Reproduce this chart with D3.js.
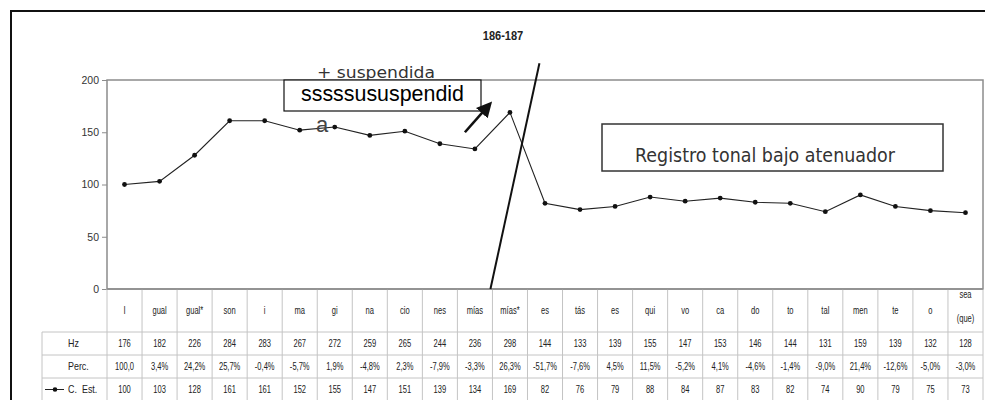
<!DOCTYPE html>
<html>
<head>
<meta charset="utf-8">
<script src="https://cdn.jsdelivr.net/npm/d3@7"></script>
<style>
  body { margin: 0; background: #fff; }
  svg { display: block; }
</style>
</head>
<body>
<div id="container"></div>
<script>
// syllables (x categories)
const categories = ["I", "gual", "gual*", "son", "i", "ma", "gi", "na", "cio", "nes", "mías", "mías*",
  "es", "tás", "es", "qui", "vo", "ca", "do", "to", "tal", "men", "te", "o", "sea (que)"];
// F0 in Hz
const hz = [176, 182, 226, 284, 283, 267, 272, 259, 265, 244, 236, 298,
  144, 133, 139, 155, 147, 153, 146, 144, 131, 159, 139, 132, 128];
// percentage change
const perc = ["100,0", "3,4%", "24,2%", "25,7%", "-0,4%", "-5,7%", "1,9%", "-4,8%", "2,3%", "-7,9%", "-3,3%", "26,3%",
  "-51,7%", "-7,6%", "4,5%", "11,5%", "-5,2%", "4,1%", "-4,6%", "-1,4%", "-9,0%", "21,4%", "-12,6%", "-5,0%", "-3,0%"];
// standardized curve
const cEst = [100, 103, 128, 161, 161, 152, 155, 147, 151, 139, 134, 169,
  82, 76, 79, 88, 84, 87, 83, 82, 74, 90, 79, 75, 73];
const yTicks = [0, 50, 100, 150, 200];

const width = 985, height = 400;
const plotLeft = 107, plotRight = 983, plotTop = 80, plotBottom = 289;
const rowLines = [332, 355, 378];

const x = d3.scaleBand().domain(d3.range(categories.length)).range([plotLeft, plotRight]);
const y = d3.scaleLinear().domain([0, 200]).range([plotBottom, plotTop]);
const cx = i => x(i) + x.bandwidth() / 2;

const svg = d3.select("#container").append("svg")
  .attr("width", width).attr("height", height)
  .attr("viewBox", [0, 0, width, height])
  .style("font-family", "'Liberation Sans', Arial, sans-serif");

// outer frame (only top & left visible)
svg.append("path")
  .attr("d", `M11,${height} L11,11 L${width},11`)
  .attr("fill", "none").attr("stroke", "#111").attr("stroke-width", 2);

// title
svg.append("text")
  .attr("transform", "translate(503,40) scale(0.85,1)")
  .attr("text-anchor", "middle")
  .attr("font-size", 13).attr("font-weight", "bold").attr("fill", "#222")
  .text("186-187");

// plot area frame
svg.append("rect")
  .attr("x", plotLeft).attr("y", plotTop)
  .attr("width", plotRight - plotLeft).attr("height", plotBottom - plotTop)
  .attr("fill", "none").attr("stroke", "#8c8c8c").attr("stroke-width", 1.5);

// y axis
const yAxis = svg.append("g")
  .attr("transform", `translate(${plotLeft},0)`)
  .call(d3.axisLeft(y).tickValues(yTicks).tickSize(5).tickPadding(3));
yAxis.select(".domain").remove();
yAxis.selectAll("line").attr("stroke", "#8c8c8c");
yAxis.selectAll("text")
  .attr("font-size", 10.5).attr("fill", "#333")
  .attr("font-family", "'Liberation Sans', Arial, sans-serif");

// table grid
const grid = svg.append("g").attr("stroke", "#c4c4c4").attr("stroke-width", 1);
grid.selectAll("line.h").data(rowLines).join("line")
  .attr("x1", 42).attr("x2", plotRight)
  .attr("y1", d => d).attr("y2", d => d);
grid.selectAll("line.v").data(d3.range(categories.length + 1)).join("line")
  .attr("x1", i => plotLeft + i * x.step()).attr("x2", i => plotLeft + i * x.step())
  .attr("y1", plotBottom).attr("y2", height);
grid.append("line").attr("x1", 42).attr("x2", 42).attr("y1", rowLines[0]).attr("y2", height);
grid.append("line").attr("x1", plotLeft).attr("x2", plotRight)
  .attr("y1", plotBottom).attr("y2", plotBottom).attr("stroke", "#8c8c8c").attr("stroke-width", 1.5);

// table text helper
function cell(g, tx, ty, str, sx = 0.72) {
  g.append("text")
    .attr("transform", `translate(${tx},${ty}) scale(${sx},1)`)
    .attr("text-anchor", "middle")
    .attr("font-size", 10.5).attr("fill", "#222")
    .text(str);
}
const table = svg.append("g");
categories.forEach((c, i) => {
  if (c.includes(" ")) {
    const parts = c.split(" ");
    cell(table, cx(i), 298, parts[0]);
    cell(table, cx(i), 322, parts[1]);
  } else {
    cell(table, cx(i), 314, c);
  }
  cell(table, cx(i), 347, hz[i]);
  cell(table, cx(i), 370, perc[i]);
  cell(table, cx(i), 393, cEst[i]);
});

// row headers
const rowHead = [["Hz", 347], ["Perc.", 370], ["C. Est.", 393]];
rowHead.forEach(([t, ty]) => {
  svg.append("text")
    .attr("transform", `translate(68,${ty}) scale(0.85,1)`)
    .attr("font-size", 10.5).attr("fill", "#222")
    .attr("word-spacing", 3)
    .text(t);
});
svg.append("line").attr("x1", 45).attr("x2", 64).attr("y1", 389.5).attr("y2", 389.5)
  .attr("stroke", "#222").attr("stroke-width", 1);
svg.append("circle").attr("cx", 55).attr("cy", 389.5).attr("r", 2.3).attr("fill", "#111");

// series line
const line = d3.line().x((d, i) => cx(i)).y(d => y(d));
svg.append("path")
  .datum(cEst)
  .attr("d", line)
  .attr("fill", "none").attr("stroke", "#222").attr("stroke-width", 1.1);
svg.append("g").selectAll("circle").data(cEst).join("circle")
  .attr("cx", (d, i) => cx(i)).attr("cy", d => y(d))
  .attr("r", 2.4).attr("fill", "#111");

// annotations
svg.append("text")
  .attr("x", 317).attr("y", 78)
  .attr("font-family", "'DejaVu Sans', Verdana, sans-serif")
  .attr("font-size", 16).attr("fill", "#333")
  .attr("textLength", 118).attr("lengthAdjust", "spacingAndGlyphs")
  .text("+ suspendida");

svg.append("rect")
  .attr("x", 284).attr("y", 80).attr("width", 197).attr("height", 31)
  .attr("fill", "#fff").attr("stroke", "#111").attr("stroke-width", 1.2);
svg.append("text")
  .attr("x", 301).attr("y", 101)
  .attr("font-size", 22).attr("fill", "#000")
  .attr("textLength", 163).attr("lengthAdjust", "spacingAndGlyphs")
  .text("sssssususpendid");
svg.append("text")
  .attr("x", 316).attr("y", 132)
  .attr("font-size", 22).attr("fill", "#444")
  .text("a");

// arrow
svg.append("defs").append("marker")
  .attr("id", "head").attr("viewBox", "0 0 10 10")
  .attr("refX", 6).attr("refY", 5)
  .attr("markerWidth", 6).attr("markerHeight", 6)
  .attr("orient", "auto")
  .append("path").attr("d", "M0,0 L10,5 L0,10 z").attr("fill", "#111");
svg.append("line")
  .attr("x1", cx(10) - 10).attr("y1", y(150))
  .attr("x2", cx(11) - 22).attr("y2", y(175))
  .attr("stroke", "#111").attr("stroke-width", 2.6)
  .attr("marker-end", "url(#head)");

// boundary slash
svg.append("line")
  .attr("x1", plotLeft + 11 * x.step() - 2).attr("y1", y(0))
  .attr("x2", plotLeft + 11 * x.step() + 47).attr("y2", y(216))
  .attr("stroke", "#111").attr("stroke-width", 2);

// register box
svg.append("rect")
  .attr("x", 602).attr("y", 124).attr("width", 341).attr("height", 47)
  .attr("fill", "#fff").attr("stroke", "#333").attr("stroke-width", 1.5);
svg.append("text")
  .attr("x", 635).attr("y", 162)
  .attr("font-family", "'DejaVu Sans', Verdana, sans-serif")
  .attr("font-size", 19).attr("fill", "#333")
  .attr("textLength", 260).attr("lengthAdjust", "spacingAndGlyphs")
  .text("Registro tonal bajo atenuador");
</script>
</body>
</html>
